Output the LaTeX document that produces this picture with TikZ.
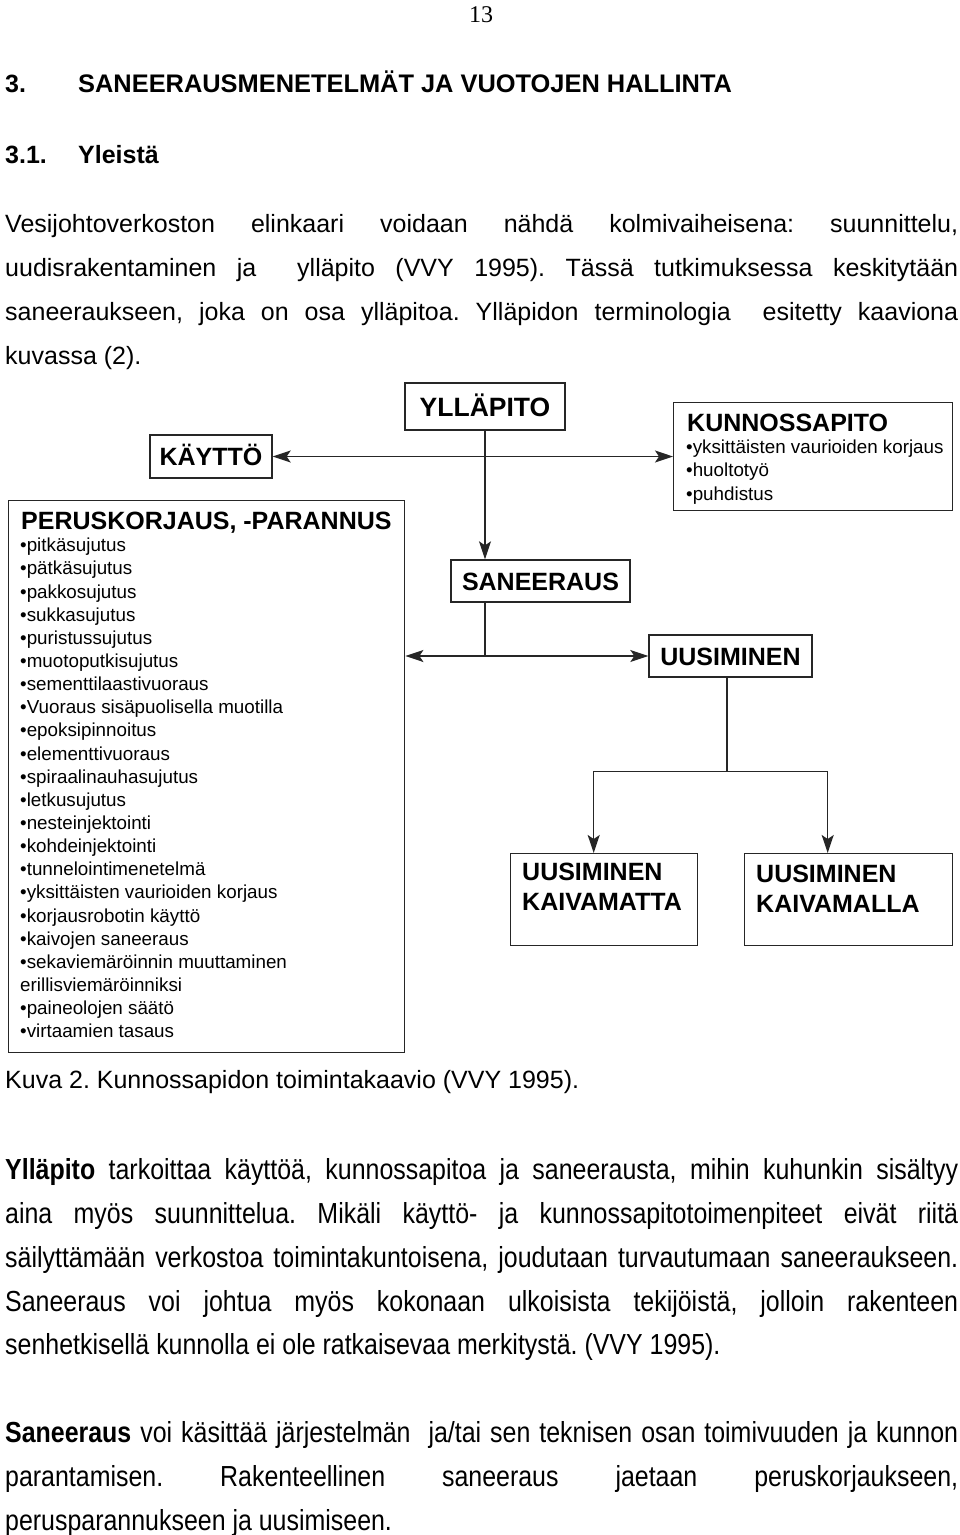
\documentclass[tikz,border=0pt]{standalone}
\usepackage{fontspec}
\setmainfont{Liberation Sans}
\newfontfamily\pagefont{Liberation Serif}
\newfontfamily\narrowfont{Liberation Sans}[FakeStretch=0.86]
\usetikzlibrary{arrows.meta}
\frenchspacing
\newcommand{\fullline}[1]{\makebox[953pt][s]{#1}}

\begin{document}
\begin{tikzpicture}[x=1pt, y=-1pt,
		main/.style={draw=black!85, line width=1.4pt, inner sep=0pt, text height=18pt, text depth=0pt, font=\bfseries\fontsize{25}{30}\selectfont},
		boxed/.style={draw=black!85, line width=1.4pt, inner sep=0pt, anchor=north west},
		txt/.style={anchor=base west, inner sep=0pt, font=\fontsize{25}{30}\selectfont},
		hd/.style={anchor=base west, inner sep=0pt, font=\bfseries\fontsize{25}{30}\selectfont},
		list/.style={anchor=north west, inner sep=0pt, align=left, font=\fontsize{18.8}{23.14}\selectfont},
		nar/.style={anchor=base west, inner sep=0pt, font=\narrowfont\fontsize{29}{34}\selectfont},
		link/.style={draw=black!85, line width=1.4pt},
		arr/.style={link, -{Stealth[length=18pt, width=12pt, inset=4pt]}},
		darr/.style={link, {Stealth[length=18pt, width=12pt, inset=4pt]}-{Stealth[length=18pt, width=12pt, inset=4pt]}}]
		\path[fill=white, use as bounding box] (0,0) rectangle (960,1535);

		\node[anchor=base west, inner sep=0pt, font=\pagefont\fontsize{24}{28}\selectfont] (pagenum) at (469,22) {13};
		\node[hd] (h1num) at (5,92) {3.};
		\node[hd, font=\bfseries\fontsize{25.4}{30}\selectfont] (h1) at (78,92) {SANEERAUSMENETELMÄT JA VUOTOJEN HALLINTA};
		\node[hd] (h2num) at (5,163) {3.1.};
		\node[hd] (h2) at (78,163) {Yleistä};

		\node[txt] (line1) at (5,232) {\fullline{Vesijohtoverkoston elinkaari voidaan nähdä kolmivaiheisena: suunnittelu,}};
		\node[txt] (line2) at (5,276) {\fullline{uudisrakentaminen ja\ \ ylläpito (VVY 1995). Tässä tutkimuksessa keskitytään}};
		\node[txt] (line3) at (5,320) {\fullline{saneeraukseen, joka on osa ylläpitoa. Ylläpidon terminologia\ \ esitetty kaaviona}};
		\node[txt] (line4) at (5,364) {kuvassa (2).};

		\node[main, minimum width=160pt, minimum height=47pt, text height=19pt, font=\bfseries\fontsize{26.5}{30}\selectfont] (yllapito) at (485,406.5) {YLLÄPITO};
		\node[main, minimum width=122pt, minimum height=43pt] (kaytto) at (211,456.5) {KÄYTTÖ};

		\node[boxed, minimum width=279pt, minimum height=108pt] (kunnossa) at (673,402) {};
		\node[hd] (kunnossahead) at (687,431) {KUNNOSSAPITO};
		\node[list, font=\fontsize{18.8}{23.5}\selectfont] (kunnossalist) at (686,439.5) {•yksittäisten vaurioiden korjaus\\•huoltotyö\\•puhdistus};

		\node[boxed, minimum width=396pt, minimum height=552pt] (perus) at (8,500) {};
		\node[hd] (perushead) at (21,529) {PERUSKORJAUS, -PARANNUS};
		\node[list] (peruslist) at (20,538) {•pitkäsujutus\\•pätkäsujutus\\•pakkosujutus\\•sukkasujutus\\•puristussujutus\\•muotoputkisujutus\\•sementtilaastivuoraus\\•Vuoraus sisäpuolisella muotilla\\•epoksipinnoitus\\•elementtivuoraus\\•spiraalinauhasujutus\\•letkusujutus\\•nesteinjektointi\\•kohdeinjektointi\\•tunnelointimenetelmä\\•yksittäisten vaurioiden korjaus\\•korjausrobotin käyttö\\•kaivojen saneeraus\\•sekaviemäröinnin muuttaminen\\erillisviemäröinniksi\\•paineolojen säätö\\•virtaamien tasaus};

		\node[main, minimum width=179pt, minimum height=42pt] (saneeraus) at (540.5,581) {SANEERAUS};
		\node[main, minimum width=163pt, minimum height=42pt] (uusiminen) at (730.5,656) {UUSIMINEN};

		\node[boxed, minimum width=187pt, minimum height=92pt] (kaivamatta) at (510,853) {};
		\node[list, font=\bfseries\fontsize{25}{30}\selectfont] (kaivamattatext) at (522,863) {UUSIMINEN\\KAIVAMATTA};
		\node[boxed, minimum width=208pt, minimum height=92pt] (kaivamalla) at (744,853) {};
		\node[list, font=\bfseries\fontsize{25}{30}\selectfont] (kaivamallatext) at (756,865) {UUSIMINEN\\KAIVAMALLA};

		\draw[darr] (kaytto.east) -- (kaytto.east -| kunnossa.west);
		\draw[arr] (yllapito.south) -- (yllapito.south |- saneeraus.north);
		\coordinate (mid) at (yllapito.south |- uusiminen.west);
		\draw[link] (yllapito.south |- saneeraus.south) -- (mid);
		\draw[darr] (uusiminen.west -| perus.east) -- (uusiminen.west);
		\draw[link] ([xshift=-3.5pt]uusiminen.south) -- ++(0,94) coordinate (fork);
		\draw[arr] (fork) -| ([xshift=-10.5pt]kaivamatta.north);
		\draw[arr] (fork) -| ([xshift=-21pt]kaivamalla.north);

		\node[txt] (caption) at (5,1088) {Kuva 2. Kunnossapidon toimintakaavio (VVY 1995).};

		\node[nar] (para1) at (5,1179) {\fullline{{\bfseries Ylläpito} tarkoittaa käyttöä, kunnossapitoa ja saneerausta, mihin kuhunkin sisältyy}};
		\node[nar] (para2) at (5,1223) {\fullline{aina myös suunnittelua. Mikäli käyttö- ja kunnossapitotoimenpiteet eivät riitä}};
		\node[nar] (para3) at (5,1267) {\fullline{säilyttämään verkostoa toimintakuntoisena, joudutaan turvautumaan saneeraukseen.}};
		\node[nar] (para4) at (5,1311) {\fullline{Saneeraus voi johtua myös kokonaan ulkoisista tekijöistä, jolloin rakenteen}};
		\node[nar] (para5) at (5,1354) {senhetkisellä kunnolla ei ole ratkaisevaa merkitystä. (VVY 1995).};
		\node[nar] (para6) at (5,1442) {\fullline{{\bfseries Saneeraus} voi käsittää järjestelmän\ \ ja/tai sen teknisen osan toimivuuden ja kunnon}};
		\node[nar] (para7) at (5,1486) {\fullline{parantamisen. Rakenteellinen saneeraus jaetaan peruskorjaukseen,}};
		\node[nar] (para8) at (5,1530) {perusparannukseen ja uusimiseen.};
	\end{tikzpicture}
\end{document}
